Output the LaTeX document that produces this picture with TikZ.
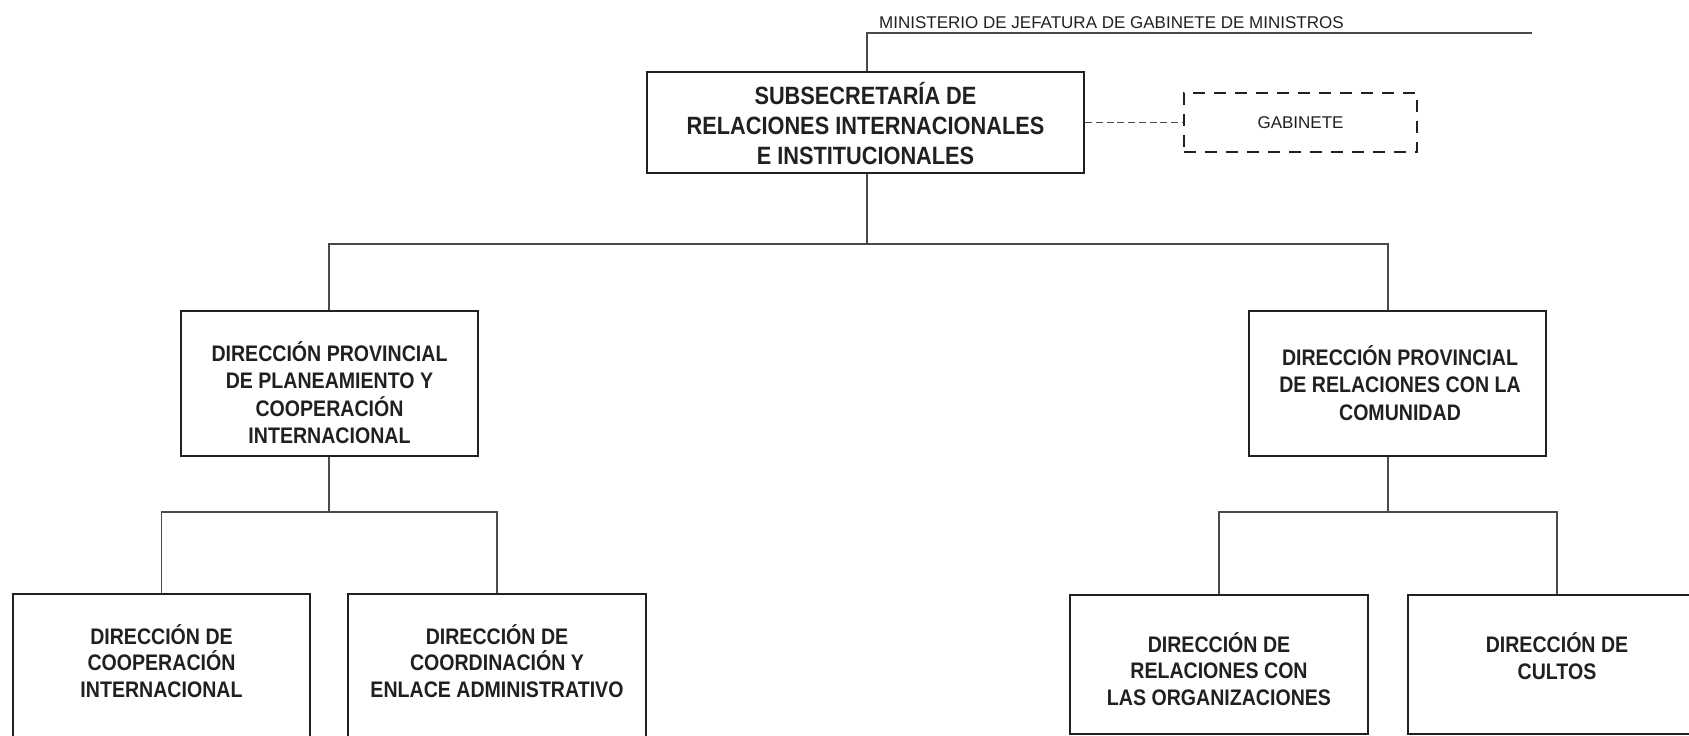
\documentclass[tikz,border=0pt]{standalone}
\usepackage{fontspec}
\setmainfont{Liberation Sans}
\newfontfamily\condfont[FakeStretch=0.87]{Liberation Sans}
\definecolor{boxcol}{HTML}{231F20}
\definecolor{linecol}{HTML}{4A4A4A}
\begin{document}
\begin{tikzpicture}[x=1pt,y=-1pt,
  box/.style={draw=boxcol, line width=2.6pt, rectangle, inner sep=0pt},
  dbox/.style={draw=boxcol, line width=2.6pt, rectangle, inner sep=0pt, dash pattern=on 12pt off 9pt},
  conn/.style={draw=linecol, line width=1.5pt},
  dconn/.style={draw=linecol, line width=1.4pt, dash pattern=on 7pt off 3.7pt},
  ttop/.style={align=center, inner sep=0pt, text=boxcol, font={\condfont\bfseries\fontsize{25}{30}\selectfont}},
  tmid/.style={align=center, inner sep=0pt, text=boxcol, font={\condfont\bfseries\fontsize{22.5}{27.5}\selectfont}},
  tbot/.style={align=center, inner sep=0pt, text=boxcol, font={\condfont\bfseries\fontsize{22.5}{26.5}\selectfont}},
  tplain/.style={inner sep=0pt, text=boxcol, font={\fontsize{17}{20}\selectfont}}
]
\useasboundingbox (0,0) rectangle (1689,736);
\clip (0,0) rectangle (1689,736);

% top
\node[tplain, anchor=base west] (mint) at (879,28) {MINISTERIO DE JEFATURA DE GABINETE DE MINISTROS};
\node[box, minimum width=437pt, minimum height=101pt] (sub) at (865.5,122.5) {};
\node[ttop] (subt) at (865.5,124) {SUBSECRETARÍA DE\\RELACIONES INTERNACIONALES\\E INSTITUCIONALES};
\node[dbox, minimum width=233pt, minimum height=59pt, text=boxcol, font={\fontsize{17}{20}\selectfont}] (gab) at (1300.5,122.5) {GABINETE};

% middle
\node[box, minimum width=297pt, minimum height=145pt] (dp1) at (329.5,383.5) {};
\node[tmid] (dp1t) at (329.5,392.5) {DIRECCIÓN PROVINCIAL\\DE PLANEAMIENTO Y\\COOPERACIÓN\\INTERNACIONAL};
\node[box, minimum width=297pt, minimum height=145pt] (dp2) at (1397.5,383.5) {};
\node[tmid] (dp2t) at (1400,383) {DIRECCIÓN PROVINCIAL\\DE RELACIONES CON LA\\COMUNIDAD};

% bottom
\node[box, minimum width=297pt, minimum height=146pt] (b1) at (161.5,667) {};
\node[tbot] (b1t) at (161.5,661) {DIRECCIÓN DE\\COOPERACIÓN\\INTERNACIONAL};
\node[box, minimum width=298pt, minimum height=146pt] (b2) at (497,667) {};
\node[tbot] (b2t) at (497,661) {DIRECCIÓN DE\\COORDINACIÓN Y\\ENLACE ADMINISTRATIVO};
\node[box, minimum width=298pt, minimum height=139pt] (b3) at (1219,664.5) {};
\node[tbot] (b3t) at (1219,669) {DIRECCIÓN DE\\RELACIONES CON\\LAS ORGANIZACIONES};
\node[box, minimum width=298pt, minimum height=139pt] (b4) at (1557,664.5) {};
\node[tbot] (b4t) at (1557,656) {DIRECCIÓN DE\\CULTOS};

% connectors
\coordinate (minL) at (867,33);
\coordinate (minR) at (1532,33);
\draw[conn] (minR) -- (minL) -- (minL |- sub.north);
\draw[dconn] (sub.east) -- (gab.west);
\coordinate (j0) at (867,244);
\coordinate (jL) at (329,244);
\coordinate (jR) at (1388,244);
\draw[conn] (j0 |- sub.south) -- (j0);
\draw[conn] (jL |- dp1.north) -- (jL) -- (jR) -- (jR |- dp2.north);
\coordinate (kL) at (329,512);
\coordinate (kR) at (1388,512);
\draw[conn] (kL |- dp1.south) -- (kL);
\draw[conn] (b1.north) -- (b1.north |- kL) -- (b2.north |- kL) -- (b2.north);
\draw[conn] (kR |- dp2.south) -- (kR);
\draw[conn] (b3.north) -- (b3.north |- kR) -- (b4.north |- kR) -- (b4.north);
\end{tikzpicture}
\end{document}
